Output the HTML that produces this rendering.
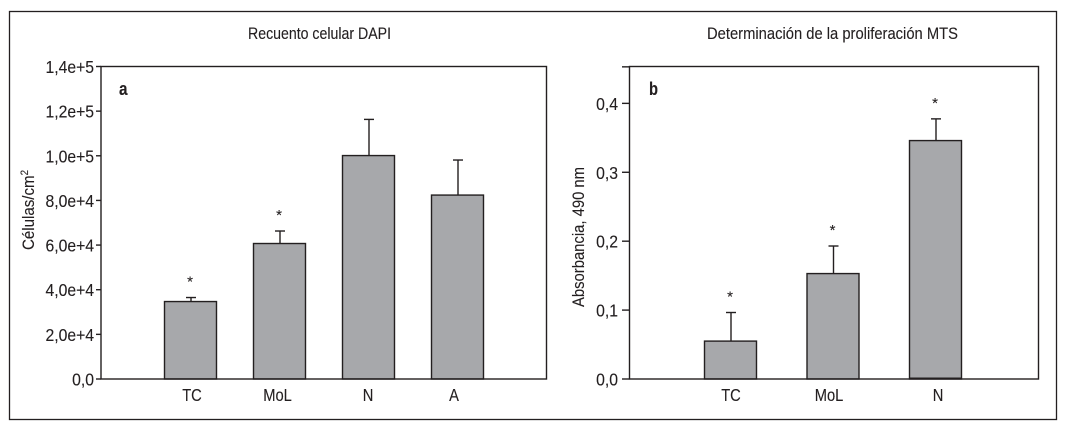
<!DOCTYPE html>
<html>
<head>
<meta charset="utf-8">
<style>
html,body{margin:0;padding:0;background:#fff;}
svg{display:block;}
text{font-family:"Liberation Sans",sans-serif;fill:#231f20;stroke:#231f20;stroke-width:0.12;}
</style>
</head>
<body>
<svg id="fig" xmlns="http://www.w3.org/2000/svg" width="1067" height="430" viewBox="0 0 1067 430">
  <rect x="9.5" y="11.5" width="1047" height="408" fill="#fff" stroke="#231f20" stroke-width="1.3"/>
  <text x="248" y="39" font-size="17" textLength="143" lengthAdjust="spacingAndGlyphs">Recuento celular DAPI</text>
  <text x="707" y="39" font-size="17" textLength="251" lengthAdjust="spacingAndGlyphs">Determinación de la proliferación MTS</text>
  <text x="119" y="95" font-size="18" font-weight="bold" textLength="8.5" lengthAdjust="spacingAndGlyphs">a</text>
  <text x="649" y="95" font-size="18" font-weight="bold" textLength="9" lengthAdjust="spacingAndGlyphs">b</text>
  <text transform="translate(34,250) rotate(-90)" font-size="17" textLength="80" lengthAdjust="spacingAndGlyphs">Células/cm<tspan font-size="11" dy="-6">2</tspan></text>
  <text transform="translate(584,307) rotate(-90)" font-size="17" textLength="140" lengthAdjust="spacingAndGlyphs">Absorbancia, 490 nm</text>
  <g id="panel-a"></g>
  <g id="panel-b"></g>
</svg>
<script>
// Chart a: DAPI cell count
const categoriesA = ['TC', 'MoL', 'N', 'A'];
const valuesA = [34700, 60700, 100100, 82400];
const errorTopsA = [36500, 66300, 116300, 98100];
const significantA = [true, true, false, false];
const tickValuesA = [0, 20000, 40000, 60000, 80000, 100000, 120000, 140000];
const tickLabelsA = ['0,0', '2,0e+4', '4,0e+4', '6,0e+4', '8,0e+4', '1,0e+5', '1,2e+5', '1,4e+5'];

// Chart b: MTS proliferation
const categoriesB = ['TC', 'MoL', 'N'];
const valuesB = [0.055, 0.153, 0.346];
const errorTopsB = [0.0965, 0.193, 0.3775];
const significantB = [true, true, true];
const tickValuesB = [0, 0.1, 0.2, 0.3, 0.4, 0.453];
const tickLabelsB = ['0,0', '0,1', '0,2', '0,3', '0,4', ''];

const NS = 'http://www.w3.org/2000/svg';
const INK = '#231f20';
const BAR_FILL = '#a7a8ab';
const LINE_W = 1.4;

function make(parent, tag, props) {
  const el = document.createElementNS(NS, tag);
  for (const k in props) el.setAttribute(k, props[k]);
  parent.appendChild(el);
  return el;
}

function drawPanel(cfg) {
  const g = document.getElementById(cfg.id);
  const y = v => cfg.y0 - (v / cfg.max) * (cfg.y0 - cfg.yTop);
  const x = i => cfg.first + i * cfg.step;

  cfg.ticks.forEach((t, i) => {
    const tick = make(g, 'line', {x1: cfg.left - cfg.tickLen, x2: cfg.left, y1: y(t), y2: y(t), stroke: INK, 'stroke-width': LINE_W});
    
    
    if (cfg.tickLabels[i]) {
      const lab = make(g, 'text', {'font-size': 17.5, 'text-anchor': 'end',
        transform: 'translate(' + (cfg.left - cfg.labelGap) + ',' + (y(t) + 6.5) + ') scale(0.9,1)'});
      lab.textContent = cfg.tickLabels[i];
      
      
    }
  });

  cfg.values.forEach((v, i) => {
    const cx = x(i);
    const errLine = make(g, 'line', {x1: cx + 0.5, x2: cx + 0.5, y1: y(v), y2: y(cfg.errs[i]), stroke: INK, 'stroke-width': LINE_W});
    
    
    const cap = make(g, 'line', {x1: cx - 4.5, x2: cx + 5.5, y1: y(cfg.errs[i]), y2: y(cfg.errs[i]), stroke: INK, 'stroke-width': LINE_W});
    
    
    const bar = make(g, 'rect', {x: cx - 26, y: y(v), width: 52, height: cfg.y0 - y(v), fill: BAR_FILL, stroke: INK, 'stroke-width': LINE_W});
    
    
    const lab = make(g, 'text', {'font-size': 17.5, 'text-anchor': 'middle',
      transform: 'translate(' + (cx + cfg.nudge[i]) + ',401) scale(0.84,1)'});
    lab.textContent = cfg.cats[i];
    
    
    if (cfg.sig[i]) {
      const star = make(g, 'text', {x: cx - 0.5, y: y(cfg.errs[i]) - 11, 'font-size': 15, 'text-anchor': 'middle'});
      star.textContent = '*';
      
      
    }
  });

  const frame = make(g, 'rect', {x: cfg.left, y: cfg.yTop, width: cfg.right - cfg.left, height: cfg.y0 - cfg.yTop, fill: 'none', stroke: INK, 'stroke-width': LINE_W});
  
  

  if (cfg.heavyBaseBar !== undefined) {
    const cx = x(cfg.heavyBaseBar);
    const base = make(g, 'line', {x1: cx - 26, x2: cx + 26, y1: cfg.y0 - 0.7, y2: cfg.y0 - 0.7, stroke: INK, 'stroke-width': 1.6});
    
    
  }
}

drawPanel({id: 'panel-a', left: 101, right: 546.5, yTop: 66.5, y0: 379, max: 140000, first: 190.5, step: 89, tickLen: 5, labelGap: 7,
  cats: categoriesA, values: valuesA, errs: errorTopsA, sig: significantA, ticks: tickValuesA, tickLabels: tickLabelsA, nudge: [1.5, -2, -0.5, -3.5]});
drawPanel({id: 'panel-b', left: 629.5, right: 1038.5, yTop: 66.5, y0: 379, max: 0.4535, first: 730.5, step: 102.5, tickLen: 7.5, labelGap: 11.5, heavyBaseBar: 2,
  cats: categoriesB, values: valuesB, errs: errorTopsB, sig: significantB, ticks: tickValuesB, tickLabels: tickLabelsB, nudge: [0.5, -4, 2.5]});
</script>
</body>
</html>
